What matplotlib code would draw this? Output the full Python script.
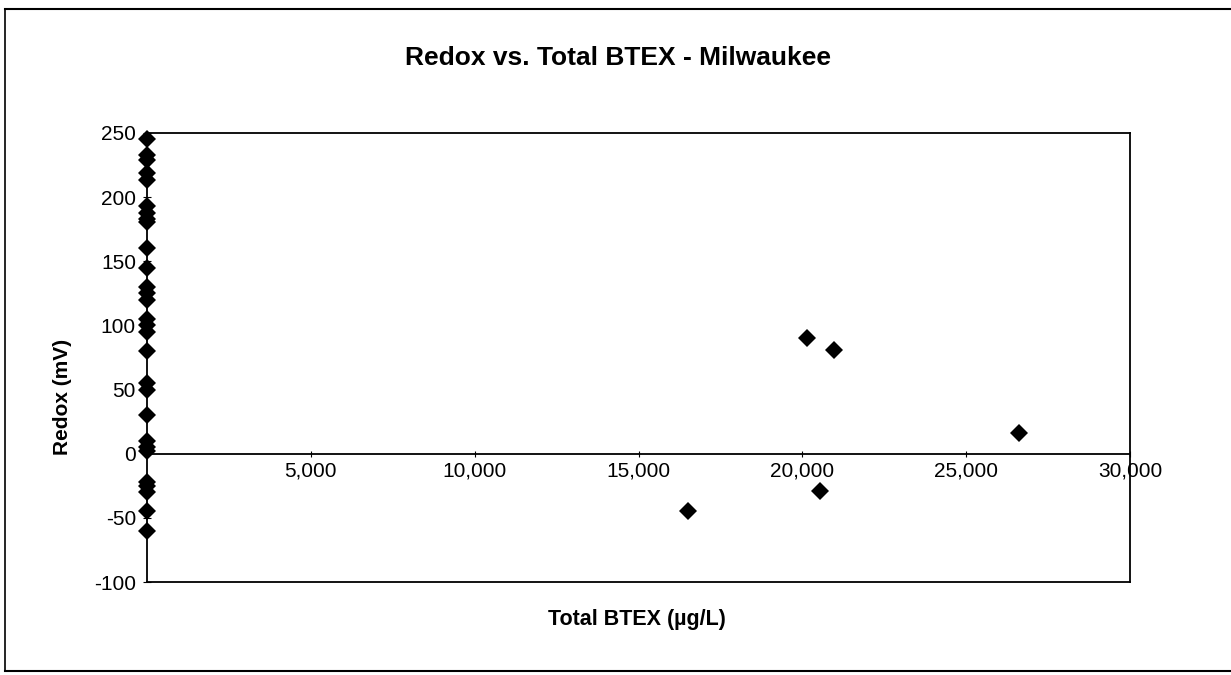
import matplotlib
matplotlib.use("Agg")
import matplotlib.pyplot as plt
from matplotlib.ticker import FuncFormatter, FixedLocator
from matplotlib.lines import Line2D

plt.rcParams['font.family'] = ['Liberation Sans', 'DejaVu Sans']

# Data
btex_left = [0] * 29
redox_left = [245, 233, 229, 219, 213, 193, 188, 183, 181, 160, 145, 130, 125,
              120, 105, 100, 95, 80, 55, 50, 30, 10, 5, 2, -22, -25, -30, -45, -60]
btex_right = [16500, 20150, 20550, 20970, 26600]
redox_right = [-45, 90, -29, 81, 16]

x_ticks = [5000, 10000, 15000, 20000, 25000, 30000]
y_ticks = [-100, -50, 0, 50, 100, 150, 200, 250]

W, H = 1231, 675
fig = plt.figure(figsize=(W / 100, H / 100), dpi=100)
ax = fig.add_axes([147 / W, 1 - 582 / H, (1130 - 147) / W, (582 - 133) / H])

xs = btex_left + btex_right
ys = redox_left + redox_right
ax.plot(xs, ys, linestyle='none', marker='D', markersize=9,
        color='black', markeredgewidth=0, clip_on=False, zorder=5)

ax.set_xlim(0, 30000)
ax.set_ylim(-100, 250)

# x-axis line through y = 0
ax.spines['bottom'].set_position(('data', 0))
ax.spines['bottom'].set_zorder(1)
for s in ax.spines.values():
    s.set_linewidth(1.3)
# frame bottom edge
ax.plot([0, 1], [0, 0], transform=ax.transAxes, color='black', lw=1.3, clip_on=False)

ax.xaxis.set_major_locator(FixedLocator(x_ticks))
ax.yaxis.set_major_locator(FixedLocator(y_ticks))
ax.xaxis.set_major_formatter(FuncFormatter(lambda v, p: f"{int(v):,}"))
ax.yaxis.set_major_formatter(FuncFormatter(lambda v, p: f"{int(v)}"))
ax.tick_params(axis='x', direction='inout', length=5, width=0.8, labelsize=15, pad=3)
ax.tick_params(axis='y', direction='inout', length=6, width=0.8, labelsize=15, pad=5)

fig.text(618 / W, 1 - 58 / H, "Redox vs. Total BTEX - Milwaukee", ha='center', va='center',
         fontsize=19, fontweight='bold')
fig.text(637 / W, 1 - 619 / H, "Total BTEX (µg/L)", ha='center', va='center',
         fontsize=15.5, fontweight='bold')
fig.text(63 / W, 1 - 397 / H, "Redox (mV)", ha='center', va='center', rotation=90,
         fontsize=15, fontweight='bold')

# outer border of the chart area
bx0, by0, bx1, by1 = 5 / W, 1 - 671 / H, 1.0, 1 - 9 / H
fig.add_artist(Line2D([bx0, bx1], [by1, by1], transform=fig.transFigure, color='black', lw=1.5))
fig.add_artist(Line2D([bx0, bx0], [by0, by1], transform=fig.transFigure, color='black', lw=1.2))
fig.add_artist(Line2D([bx0, bx1], [by0, by0], transform=fig.transFigure, color='black', lw=1.5))

fig.savefig("out.png", dpi=100, facecolor='white')
